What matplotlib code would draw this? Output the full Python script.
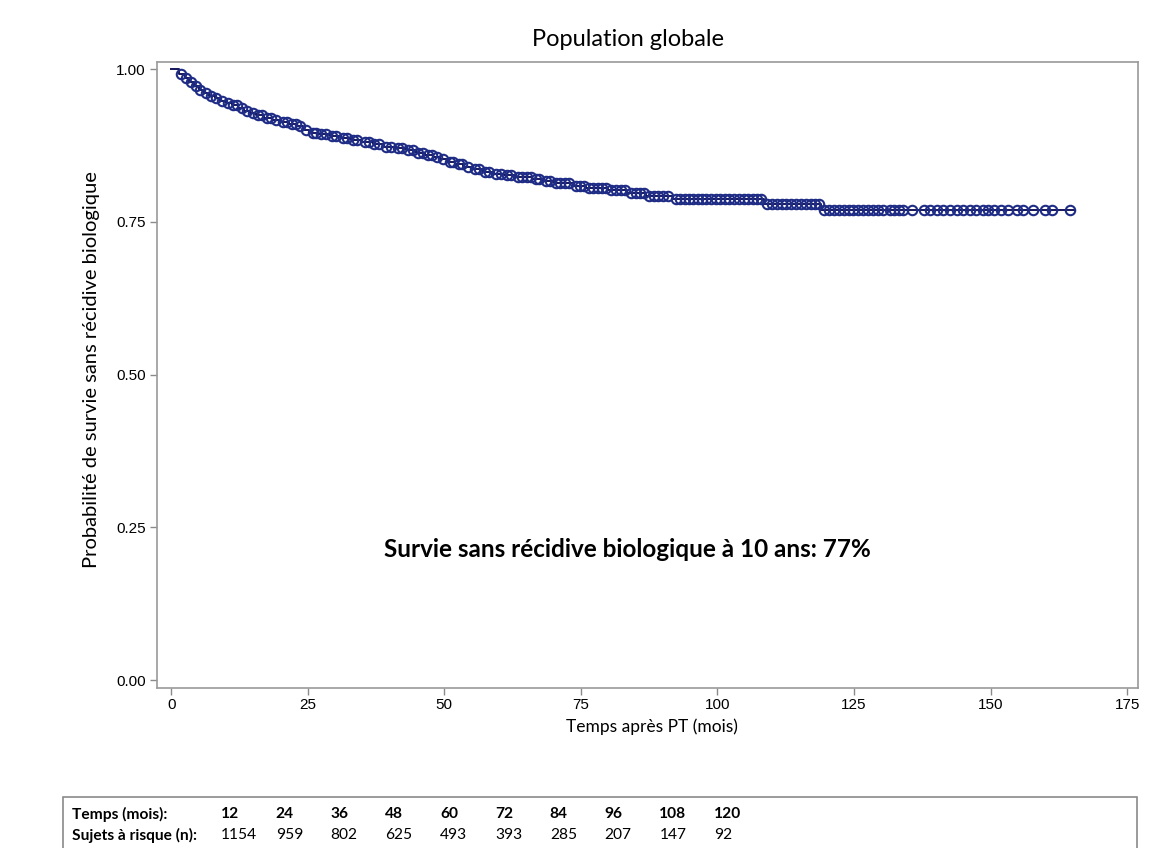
import numpy as np
import matplotlib
matplotlib.use("Agg")
import matplotlib.pyplot as plt
from matplotlib.patches import Rectangle

# Kaplan-Meier estimate: event times (months) and survival after each drop
event_times = [1.5, 2.5, 3.3, 4.2, 5.0, 6.0, 7.0, 8.0, 9.0, 10.0, 11.2, 12.3,
               13.4, 14.5, 15.6, 17.0, 18.5, 20.0, 21.6, 23.0, 24.2, 25.3, 27.0,
               29.0, 31.0, 33.0, 35.0, 37.0, 39.0, 41.0, 43.0, 44.8, 46.5, 48.0,
               49.3, 50.5, 52.0, 53.5, 55.0, 57.0, 59.0, 61.0, 63.0, 66.0, 68.0,
               70.0, 73.5, 76.0, 80.0, 83.5, 87.0, 91.8, 108.5, 119.0]
survival = [0.992, 0.985, 0.978, 0.972, 0.966, 0.961, 0.956, 0.952, 0.948, 0.944,
            0.941, 0.937, 0.932, 0.928, 0.924, 0.920, 0.917, 0.914, 0.910, 0.906,
            0.901, 0.896, 0.893, 0.890, 0.887, 0.884, 0.880, 0.877, 0.873, 0.870,
            0.867, 0.863, 0.860, 0.856, 0.852, 0.848, 0.844, 0.840, 0.836, 0.832,
            0.829, 0.826, 0.823, 0.820, 0.817, 0.814, 0.808, 0.805, 0.802, 0.797,
            0.793, 0.787, 0.779, 0.770]
follow_up_end = 165.5

# Censored observations (months)
censor_times = [
    1.8, 2.7, 3.6, 4.5, 5.3, 6.4, 7.3, 8.2, 9.3, 10.4, 11.3, 12.0, 12.9, 13.8,
    14.9, 15.8, 16.6, 17.5, 18.2, 19.1, 20.4, 21.2, 22.1, 22.8, 23.6, 24.6, 25.9,
    26.5, 27.4, 28.3, 29.4, 30.2, 31.4, 32.2, 33.3, 34.1, 35.4, 36.3, 37.2, 38.1,
    39.3, 40.2, 41.5, 42.3, 43.4, 44.3, 45.2, 46.1, 47.0, 47.7, 48.6, 49.8, 51.0,
    51.6, 52.6, 53.2, 54.3, 55.6, 56.3, 57.5, 58.2, 59.4, 60.3, 61.4, 62.2, 63.5,
    64.2, 65.1, 65.9, 66.7, 67.4, 68.6, 69.3, 70.4, 71.2, 72.1, 72.9, 74.1, 74.8,
    75.5, 76.4, 77.2, 78.1, 78.9, 79.6, 80.5, 81.4, 82.3, 83.0, 84.2, 85.1, 85.9,
    86.6, 87.5, 88.3, 89.2, 90.1, 90.9, 92.4, 93.2, 94.0, 94.8, 95.6, 96.4, 97.2,
    98.0, 98.8, 99.7, 100.5, 101.4, 102.2, 103.1, 104.0, 104.8, 105.6, 106.5,
    107.3, 108.0, 109.1, 110.0, 110.9, 111.8, 112.6, 113.5, 114.4, 115.3, 116.2,
    117.1, 117.9, 118.6, 119.6, 120.4, 121.3, 122.2, 123.1, 124.0, 124.9, 125.8,
    126.7, 127.6, 128.5, 129.4, 130.3, 131.6, 132.4, 133.2, 134.0, 135.6,
    137.8, 139.0, 140.2, 141.3, 142.6, 143.8, 145.0, 146.2, 147.4, 148.6, 149.5,
    150.7, 151.9, 153.2, 154.8, 156.0, 157.8, 160.0, 161.2, 164.6]

# Number-at-risk table
risk_months = [12, 24, 36, 48, 60, 72, 84, 96, 108, 120]
risk_counts = [1154, 959, 802, 625, 493, 393, 285, 207, 147, 92]

x_ticks = [0, 25, 50, 75, 100, 125, 150, 175]
y_ticks = [0.00, 0.25, 0.50, 0.75, 1.00]

LABEL_FONT = ["Lato", "DejaVu Sans"]
TICK_FONT = ["Liberation Sans", "DejaVu Sans"]
LINE_COL = "#15165a"
MARK_COL = "#1f2c86"

fig = plt.figure(figsize=(11.68, 8.48), dpi=100)
ax = fig.add_axes([157 / 1168, 1 - 688 / 848, (1138 - 157) / 1168, (688 - 62) / 848])

# Step curve
t_step = np.concatenate([[0.0], event_times, [follow_up_end]])
s_step = np.concatenate([[1.0], survival, [survival[-1]]])
ax.step(t_step, s_step, where="post", color=LINE_COL, lw=1.4, zorder=2)

# Censoring marks placed on the curve
idx = np.searchsorted(event_times, censor_times, side="right")
s_cens = np.concatenate([[1.0], survival])[idx]
ax.plot(censor_times, s_cens, linestyle="none", marker="o", markersize=6.8,
        markerfacecolor="none", markeredgecolor=MARK_COL, markeredgewidth=1.5,
        zorder=3)

ax.set_xlim(-2.6, 177.0)
ax.set_ylim(-0.013, 1.0115)
ax.set_xticks(x_ticks)
ax.set_xticklabels([str(v) for v in x_ticks], family=TICK_FONT, fontsize=11)
ax.set_yticks(y_ticks)
ax.set_yticklabels([f"{v:.2f}" for v in y_ticks], family=TICK_FONT, fontsize=11)
ax.tick_params(axis="both", color="#8a8a8a", length=5, width=1, pad=3)
ax.tick_params(axis="x", pad=2)
for sp in ax.spines.values():
    sp.set_color("#9a9a9a")
    sp.set_linewidth(1.2)

ax.text(83.6, 0.214, "Survie sans récidive biologique à 10 ans: 77%",
        family=LABEL_FONT, fontsize=17.5, fontweight="bold", ha="center", va="center")

fig.text(628 / 1168, 1 - 40 / 848, "Population globale", family=LABEL_FONT,
         fontsize=17, ha="center", va="center")
fig.text(92 / 1168, 1 - 370 / 848, "Probabilité de survie sans récidive biologique",
         family=LABEL_FONT, fontsize=14.5, rotation=90, ha="center", va="center")
fig.text(652 / 1168, 1 - 727 / 848, "Temps après PT (mois)", family=LABEL_FONT,
         fontsize=12.5, ha="center", va="center")

# At-risk table box
fig.patches.append(Rectangle((63 / 1168, -0.01), (1137 - 63) / 1168, 1 - 797 / 848 + 0.01,
                             transform=fig.transFigure, fill=False,
                             edgecolor="#8a8a8a", linewidth=1.2))
row1_y = 1 - 814 / 848
row2_y = 1 - 835 / 848
fig.text(72 / 1168, row1_y, "Temps (mois):", family=LABEL_FONT, fontsize=11.2,
         fontweight="bold", va="center")
fig.text(72 / 1168, row2_y, "Sujets à risque (n):", family=LABEL_FONT, fontsize=11.2,
         fontweight="bold", va="center")
col_x0, col_dx = 221, 54.8
for i, (m, n) in enumerate(zip(risk_months, risk_counts)):
    x = (col_x0 + i * col_dx) / 1168
    fig.text(x, row1_y, str(m), family=LABEL_FONT, fontsize=11.2,
             fontweight="bold", va="center")
    fig.text(x, row2_y, str(n), family=LABEL_FONT, fontsize=11.2, va="center")

fig.savefig("out.png", dpi=100, facecolor="white")
